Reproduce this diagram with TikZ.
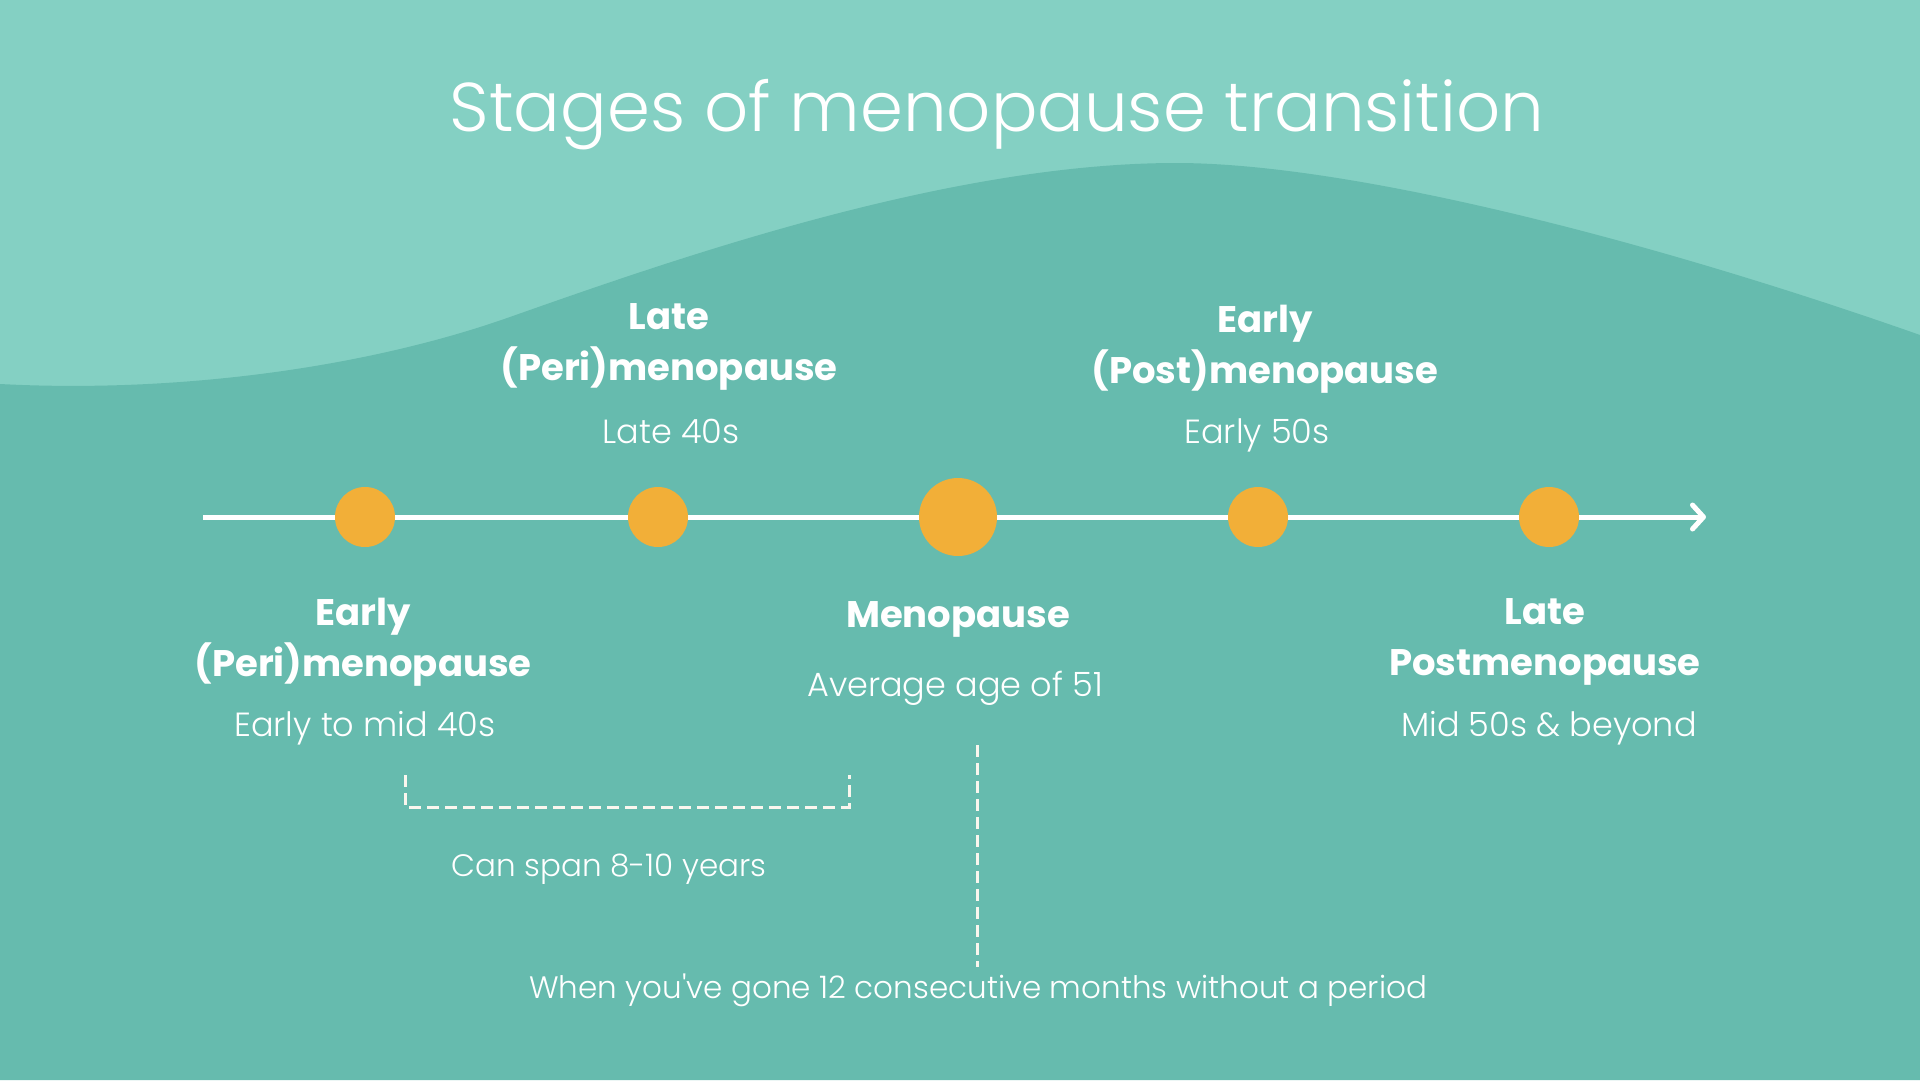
\documentclass[tikz,border=0pt]{standalone}
\usepackage{fontspec}
\setmainfont{Poppins}[UprightFont=* Light, BoldFont=* Bold]
\usetikzlibrary{arrows.meta,positioning}
\definecolor{tealtop}{HTML}{84D0C3}
\definecolor{tealbg}{HTML}{66BBAE}
\definecolor{dotorange}{HTML}{F2AF38}
\definecolor{dashwhite}{HTML}{FAF6EE}

\begin{document}
\begin{tikzpicture}[x=1pt, y=-1pt,
    dot/.style={circle, fill=dotorange, minimum size=60pt, inner sep=0pt},
    bigdot/.style={dot, minimum size=78pt},
    stage/.style={font=\fontsize{37}{51}\selectfont\bfseries, text=white,
                  align=center, inner sep=0pt},
    when/.style={font=\fontsize{33.5}{40}\selectfont, text=white,
                 inner sep=0pt, anchor=base},
    small/.style={when, font=\fontsize{31}{38}\selectfont},
    tl/.style={line width=5pt, white,
               -{Straight Barb[length=11pt, width=24pt, line cap=round, line join=round]}},
    span/.style={dashwhite, line width=3pt, dash pattern=on 12pt off 6pt}
  ]
  % background and wave
  \fill[tealtop] (0,0) rectangle (1920,1080);
  \fill[tealbg] (0,384) .. controls (170,393) and (360,370) .. (510,317)
    .. controls (680,257) and (950,163) .. (1176,163)
    .. controls (1350,163) and (1650,240) .. (1920,335)
    -- (1920,1080) -- (0,1080) -- cycle;
  \useasboundingbox (0,0) rectangle (1920,1080);

  \node[font=\fontsize{69}{74}\selectfont, text=white, anchor=base] (title) at (997,131)
    {Stages of menopause transition};

  % timeline
  \coordinate (tls) at (203,517);
  \coordinate (tle) at (1706,517);
  \draw[tl] (tls) -- (tle);
  \node[dot] (d1) at (365,517) {};
  \node[dot] (d2) at (658,517) {};
  \node[bigdot] (d3) at (958,517) {};
  \node[dot] (d4) at (1258,517) {};
  \node[dot] (d5) at (1549,517) {};

  % stages above
  \node[stage] (lateperi) at (669,347) {Late\\(Peri)menopause};
  \node[when] (lateperiage) at (671,443) {Late 40s};
  \node[stage] (earlypost) at (1265,349) {Early\\(Post)menopause};
  \node[when] (earlypostage) at (1257,443) {Early 50s};

  % stages below
  \node[stage] (earlyperi) at (363,642) {Early\\(Peri)menopause};
  \node[when] (earlyperiage) at (365,736) {Early to mid 40s};
  \node[stage, anchor=base] (meno) at (958,627) {Menopause};
  \node[when] (menoage) at (955,696) {Average age of 51};
  \node[stage] (latepost) at (1545,642) {Late\\Postmenopause};
  \node[when] (latepostage) at (1549,736) {Mid 50s \& beyond};

  % span bracket
  \coordinate (bl) at (405,775);
  \coordinate (br) at (849,775);
  \draw[span] (bl) -- ++(0,32) -| (br);
  \node[small] (spanlab) at (609,876) {Can span 8-10 years};

  % definition
  \coordinate (vtop) at (977,745);
  \coordinate (vbot) at (977,967);
  \draw[span] (vtop) -- (vbot);
  \node[small] (note) at (978,998)
    {When you\textquotesingle ve gone 12 consecutive months without a period};
\end{tikzpicture}
\end{document}
